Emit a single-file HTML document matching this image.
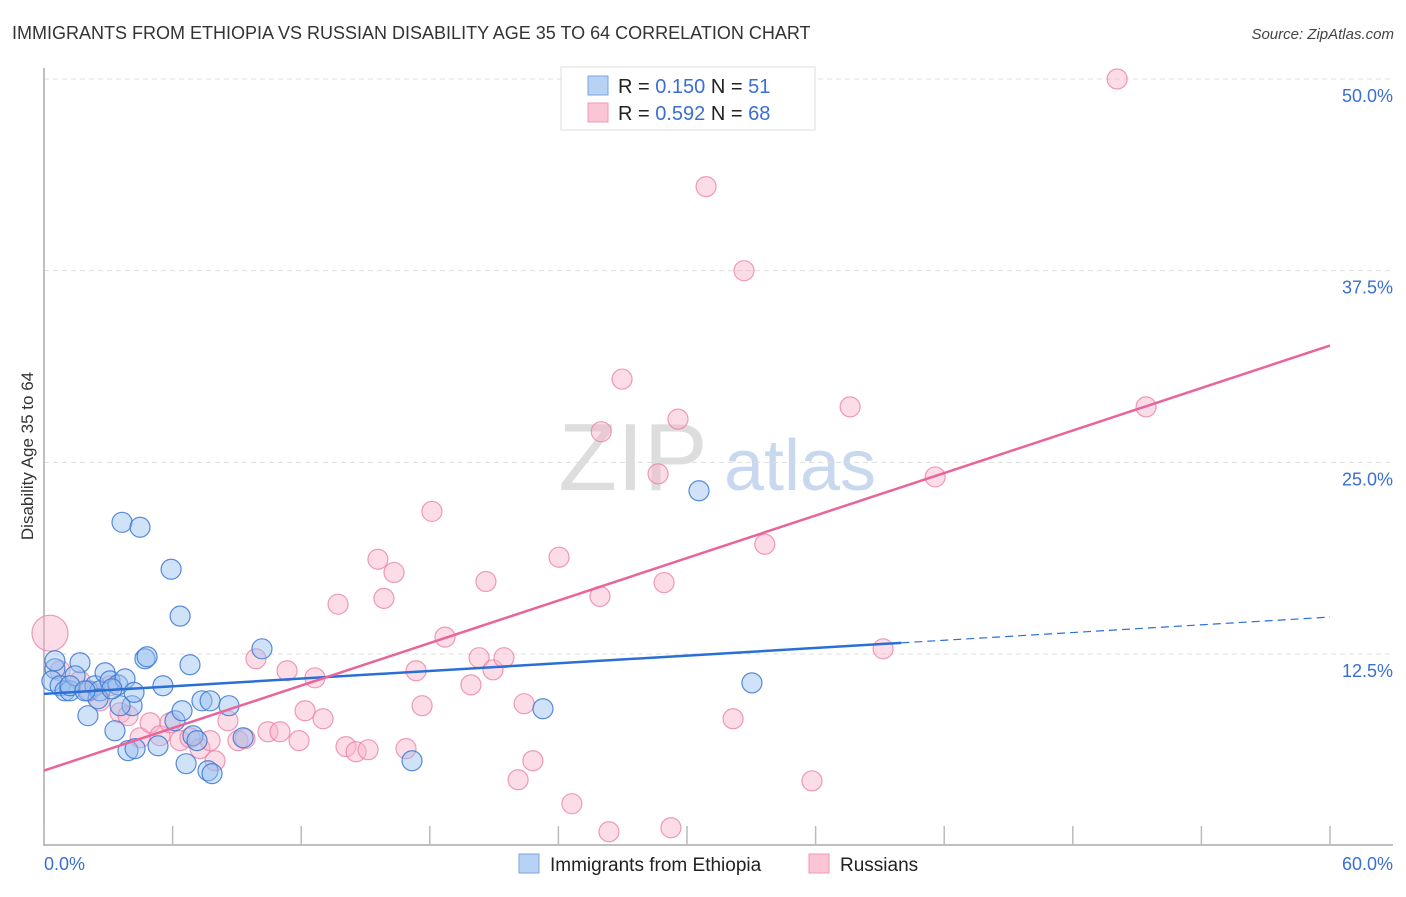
<!DOCTYPE html>
<html><head><meta charset="utf-8"><style>
body{margin:0;background:#fff;font-family:"Liberation Sans",sans-serif;}
svg text{font-family:"Liberation Sans",sans-serif;}
</style></head><body>
<svg id="chart" width="1406" height="892" xmlns="http://www.w3.org/2000/svg">
<text x="12" y="39" font-size="18" fill="#333">IMMIGRANTS FROM ETHIOPIA VS RUSSIAN DISABILITY AGE 35 TO 64 CORRELATION CHART</text>
<text x="1394" y="39" font-size="15" fill="#444" text-anchor="end" font-style="italic">Source: ZipAtlas.com</text>
<text transform="translate(33,456) rotate(-90)" font-size="17" fill="#333" text-anchor="middle">Disability Age 35 to 64</text>
<g>
<text x="633" y="490" font-size="96" fill="#ddd" font-family="Liberation Serif,serif" text-anchor="middle">ZIP</text>
<text x="800" y="490" font-size="72" fill="#c8d8ee" text-anchor="middle">atlas</text>
</g>
<g id="grid"></g>
<g id="axes"></g>
<g id="pts"></g>
<g id="lines"></g>
<g>
<rect x="561" y="67" width="254" height="63" fill="#fff" stroke="#ddd"/>
<rect x="588" y="76" width="20" height="19" fill="#b8d2f5" stroke="#7aa5e0"/>
<rect x="588" y="103" width="20" height="19" fill="#fac6d6" stroke="#f09ab5"/>
<text x="618" y="93" font-size="20" fill="#222">R = <tspan fill="#3a6fd0">0.150</tspan>   N =  <tspan fill="#3a6fd0">51</tspan></text>
<text x="618" y="120" font-size="20" fill="#222">R = <tspan fill="#3a6fd0">0.592</tspan>   N = <tspan fill="#3a6fd0">68</tspan></text>
</g>
<g>
<rect x="519" y="854" width="20" height="19" fill="#b8d2f5" stroke="#7aa5e0"/>
<text x="550" y="871" font-size="19" fill="#222">Immigrants from Ethiopia</text>
<rect x="809" y="854" width="20" height="19" fill="#fac6d6" stroke="#f09ab5"/>
<text x="840" y="871" font-size="19" fill="#222">Russians</text>
</g>
</svg>
<script>
const yTicks=[12.5,25,37.5,50];
const yTickLabels=["12.5%","25.0%","37.5%","50.0%"];
const xTicks=[0,6,12,18,24,30,36,42,48,54,60];
const blueX=[0.51,0.37,0.75,0.98,1.21,1.68,1.45,2.05,2.38,2.61,2.85,3.08,3.45,3.78,2.52,2.05,3.31,4.11,3.55,3.64,4.48,5.93,6.35,4.71,4.81,5.55,6.81,3.92,4.25,5.32,6.11,6.44,6.63,6.95,7.14,7.37,7.75,7.65,7.84,8.63,9.29,10.17,17.17,23.28,30.56,33.03,0.51,1.21,1.91,3.17,4.2];
const blueY=[11.54,10.75,10.43,10.1,10.1,11.93,11.08,10.1,10.43,10.1,11.28,10.75,10.49,10.88,9.58,8.48,7.5,9.13,9.13,21.09,20.77,18.03,14.97,12.19,12.32,10.43,11.8,6.2,6.33,6.52,8.15,8.8,5.35,7.17,6.85,9.45,9.45,4.89,4.7,9.13,7.04,12.84,5.54,8.93,23.15,10.62,12.06,10.43,10.1,10.23,10.0];
const pinkX=[0.28,0.75,1.68,2.15,3.08,2.61,3.55,3.92,4.48,4.95,5.41,5.88,6.35,6.81,7.28,7.75,7.98,8.58,9.05,9.38,9.89,10.45,11.01,11.34,11.9,12.18,12.64,13.02,13.72,14.09,14.56,15.12,15.58,15.86,16.33,16.89,17.36,17.64,18.1,18.71,19.92,20.3,20.62,20.95,21.46,22.12,22.4,22.81,24.03,24.63,25.94,26.36,26.97,28.65,28.93,29.25,29.58,30.89,32.15,32.66,33.63,35.83,37.61,39.15,41.58,50.07,51.42,26.0];
const pinkY=[13.86,11.41,10.75,10.1,10.43,9.45,8.67,8.48,7.04,8.02,7.17,8.02,6.85,7.04,6.33,6.85,5.54,8.15,6.85,6.98,12.19,7.43,7.43,11.41,6.85,8.8,10.95,8.28,15.75,6.46,6.13,6.26,18.68,16.13,17.82,6.33,11.41,9.13,21.8,13.6,10.49,12.26,17.23,11.47,12.26,4.3,9.26,5.54,18.81,2.74,16.26,0.91,30.43,24.25,17.16,1.17,27.82,42.98,8.28,37.5,19.66,4.23,28.62,12.84,24.05,50.0,28.62,27.0];
const blueTrend=[0,40,60],blueTrendY=[9.9,13.23,14.91];
const pinkTrend=[0,60],pinkTrendY=[4.9,32.62];
const NS="http://www.w3.org/2000/svg";
const X0=44,X1=1330,Y0=845.7,Y50=79;
const sx=v=>X0+(X1-X0)*v/60, sy=v=>Y0-(Y0-Y50)*v/50;
function mk(tag,attrs,parent){const e=document.createElementNS(NS,tag);for(const k in attrs)e.setAttribute(k,attrs[k]);parent.appendChild(e);return e;}
const grid=document.getElementById('grid'),axes=document.getElementById('axes'),pts=document.getElementById('pts'),lines=document.getElementById('lines');
yTicks.forEach((t,i)=>{
 const l=mk('line',{x1:44,x2:1393,y1:sy(t),y2:sy(t),stroke:'#ddd','stroke-dasharray':'5,4'},grid);
 
 
 const tx=mk('text',{x:1393,y:sy(t)+23,'font-size':18,fill:'#3a6fd0','text-anchor':'end'},axes);
 tx.textContent=yTickLabels[i];
 
 
});
const ax=mk('line',{x1:44,x2:44,y1:68,y2:846,stroke:'#aaa','stroke-width':1.5},axes);


const bx=mk('line',{x1:44,x2:1393,y1:845,y2:845,stroke:'#aaa','stroke-width':1.5},axes);


xTicks.forEach(t=>{
 const l=mk('line',{x1:sx(t),x2:sx(t),y1:826,y2:845,stroke:'#bbb','stroke-width':1.5},axes);
 
 
});
const xl0=mk('text',{x:44,y:870,'font-size':18,fill:'#3a6fd0'},axes);xl0.textContent='0.0%';


const xl1=mk('text',{x:1393,y:870,'font-size':18,fill:'#3a6fd0','text-anchor':'end'},axes);xl1.textContent='60.0%';


pinkX.forEach((v,i)=>{
 const r=(i===0)?18:10;
 const c=mk('circle',{cx:sx(v),cy:sy(pinkY[i]),r:r,fill:'rgba(248,180,202,0.45)',stroke:'rgba(235,130,165,0.8)','stroke-width':1.2},pts);
 
 
});
blueX.forEach((v,i)=>{
 const c=mk('circle',{cx:sx(v),cy:sy(blueY[i]),r:10,fill:'rgba(150,190,240,0.45)',stroke:'rgba(60,120,210,0.85)','stroke-width':1.2},pts);
 
 
});
const bl=mk('line',{x1:sx(blueTrend[0]),y1:sy(blueTrendY[0]),x2:sx(blueTrend[1]),y2:sy(blueTrendY[1]),stroke:'#2a6fd6','stroke-width':2.5},lines);


const bd=mk('line',{x1:sx(blueTrend[1]),y1:sy(blueTrendY[1]),x2:sx(blueTrend[2]),y2:sy(blueTrendY[2]),stroke:'#2a6fd6','stroke-width':1.2,'stroke-dasharray':'8,5'},lines);


const pl=mk('line',{x1:sx(pinkTrend[0]),y1:sy(pinkTrendY[0]),x2:sx(pinkTrend[1]),y2:sy(pinkTrendY[1]),stroke:'#e8649a','stroke-width':2.5},lines);


</script>
</body></html>
